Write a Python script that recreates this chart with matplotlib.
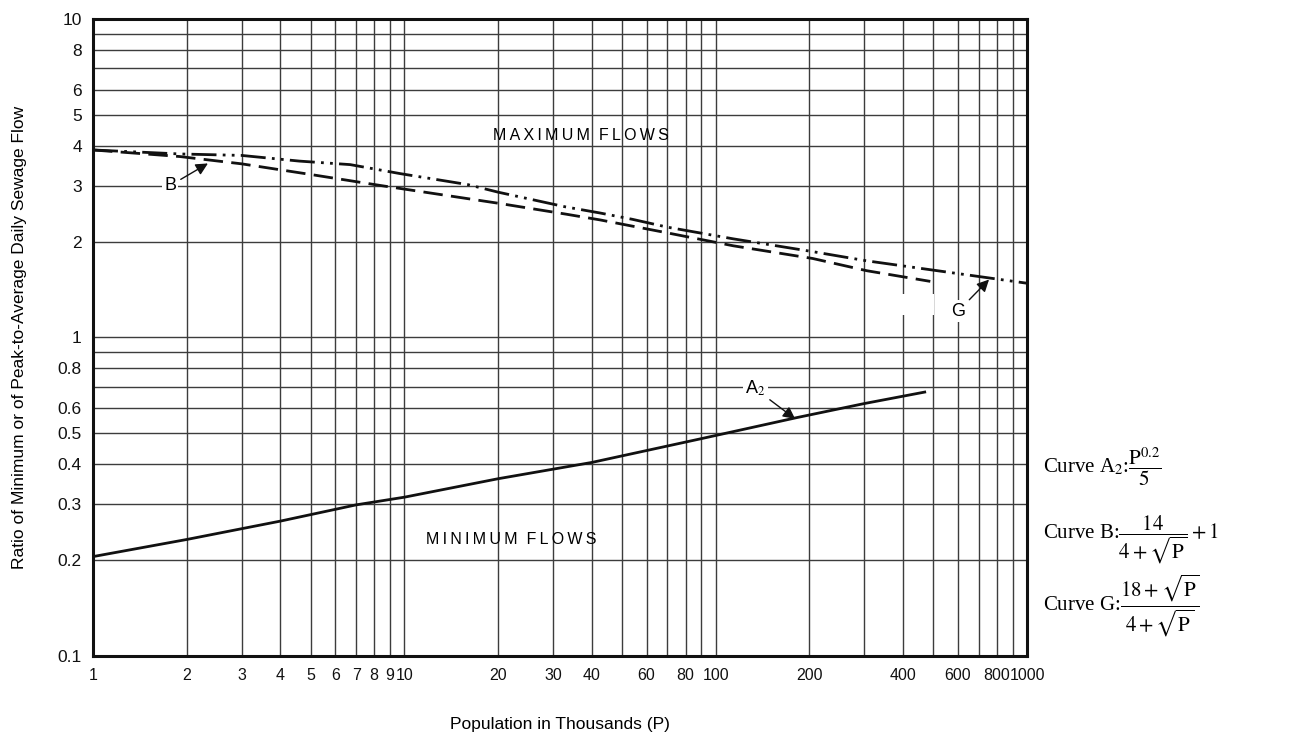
import numpy as np
import matplotlib as mpl
mpl.use('Agg')
import matplotlib.pyplot as plt
from matplotlib.ticker import FixedLocator, NullFormatter, FixedFormatter

plt.rcParams['font.family'] = ['Liberation Sans', 'DejaVu Sans']
plt.rcParams['mathtext.fontset'] = 'stix'
plt.rcParams['lines.scale_dashes'] = False

# values
pop_a2 = [1, 2, 4, 7, 10, 20, 40, 89, 182, 300, 474]
ratio_a2 = [0.205, 0.232, 0.265, 0.298, 0.315, 0.36, 0.405, 0.48, 0.56, 0.62, 0.675]

pop_b = [1, 1.9, 3, 5, 8.4, 20, 33, 42.5, 70, 114, 205, 306, 489]
ratio_b = [3.88, 3.70, 3.51, 3.25, 3.0, 2.64, 2.44, 2.34, 2.13, 1.94, 1.77, 1.62, 1.50]

pop_g = [1, 1.9, 3, 4.6, 6.7, 9.7, 16, 20, 33, 42.5, 54, 70, 114, 205, 306, 1000]
ratio_g = [3.88, 3.77, 3.73, 3.58, 3.49, 3.27, 3.02, 2.86, 2.57, 2.46, 2.35, 2.22, 2.04, 1.86, 1.74, 1.48]

x_grid = [1, 2, 3, 4, 5, 6, 7, 8, 9, 10, 20, 30, 40, 50, 60, 70, 80, 90,
          100, 200, 300, 400, 500, 600, 700, 800, 900, 1000]
x_labels = ['1', '2', '3', '4', '5', '6', '7', '8', '9', '10', '20', '30', '40', '',
            '60', '', '80', '', '100', '200', '', '400', '', '600', '', '800', '', '1000']
y_grid = [0.1, 0.2, 0.3, 0.4, 0.5, 0.6, 0.7, 0.8, 0.9, 1, 2, 3, 4, 5, 6, 7, 8, 9, 10]
y_labels = ['0.1', '0.2', '0.3', '0.4', '0.5', '0.6', '', '0.8', '', '1',
            '2', '3', '4', '5', '6', '', '8', '', '10']

fig = plt.figure(figsize=(13.04, 7.47), dpi=100)
ax = fig.add_axes([0.0713, 0.122, 0.7163, 0.8525])
ax.set_xscale('log')
ax.set_yscale('log')
ax.set_xlim(1, 1000)
ax.set_ylim(0.1, 10)

ax.xaxis.set_major_locator(FixedLocator(x_grid))
ax.xaxis.set_major_formatter(FixedFormatter(x_labels))
ax.xaxis.set_minor_locator(FixedLocator([]))
ax.xaxis.set_minor_formatter(NullFormatter())
ax.yaxis.set_major_locator(FixedLocator(y_grid))
ax.yaxis.set_major_formatter(FixedFormatter(y_labels))
ax.yaxis.set_minor_locator(FixedLocator([]))
ax.yaxis.set_minor_formatter(NullFormatter())
ax.tick_params(length=0, colors='#111111')
ax.tick_params(axis='x', pad=9, labelsize=11.5)
ax.tick_params(axis='y', pad=8, labelsize=12.5)
ax.grid(True, which='major', color='#3c3c3c', linewidth=1.0)
ax.set_axisbelow(True)
for s in ax.spines.values():
    s.set_linewidth(2.2)
    s.set_color('#111111')

ax.plot(pop_a2, ratio_a2, color='#111111', lw=2.0, solid_capstyle='butt')
ax.plot(pop_b, ratio_b, color='#111111', lw=2.0, linestyle=(0, (14, 6)))
ax.plot(pop_g, ratio_g, color='#111111', lw=2.0, linestyle=(0, (18, 4.5, 2, 4.5, 2, 4.5)))

box = dict(facecolor='white', edgecolor='none', pad=1.5)
arrow = dict(arrowstyle='-|>', color='#111111', lw=1.0, mutation_scale=18, shrinkA=2, shrinkB=0)
ax.annotate('B', xy=(2.34, 3.52), xytext=(1.77, 3.0), fontsize=13, ha='center', va='center',
            bbox=box, arrowprops=arrow)
ax.annotate('A$_2$', xy=(180, 0.555), xytext=(134, 0.69), fontsize=13, ha='center', va='center',
            bbox=box, arrowprops=arrow)
ax.annotate('G', xy=(755, 1.52), xytext=(601, 1.21), fontsize=13, ha='center', va='center',
            bbox=box, arrowprops=arrow)
# blank patch in the grid seen in the reference near P=400-500
ax.text(445, 1.27, '      ', fontsize=12, ha='center', va='center',
        bbox=dict(facecolor='white', edgecolor='none', pad=2))

ax.text(37, 4.3, 'M A X I M U M   F L O W S'.replace(' ', '\u2009').replace('\u2009\u2009\u2009', '  '),
        fontsize=11.5, ha='center', va='center')
ax.text(22, 0.232, 'M I N I M U M   F L O W S'.replace(' ', '\u2009').replace('\u2009\u2009\u2009', '  '),
        fontsize=11.5, ha='center', va='center')

ax.set_xlabel('Population in Thousands (P)', fontsize=12.5, labelpad=24)
ax.set_ylabel('Ratio of Minimum or of Peak-to-Average Daily Sewage Flow', fontsize=12.5, labelpad=22)

ftxt = dict(fontsize=15, family=['Liberation Serif', 'DejaVu Serif'], ha='left', va='center')
fig.text(0.80, 0.376, r'Curve A$_2$:$\dfrac{\mathrm{P}^{0.2}}{5}$', **ftxt)
fig.text(0.80, 0.277, r'Curve B:$\dfrac{14}{4+\sqrt{\mathrm{P}}}+1$', **ftxt)
fig.text(0.80, 0.190, r'Curve G:$\dfrac{18+\sqrt{\mathrm{P}}}{4+\sqrt{\mathrm{P}}}$', **ftxt)

fig.savefig('out.png', dpi=100)
